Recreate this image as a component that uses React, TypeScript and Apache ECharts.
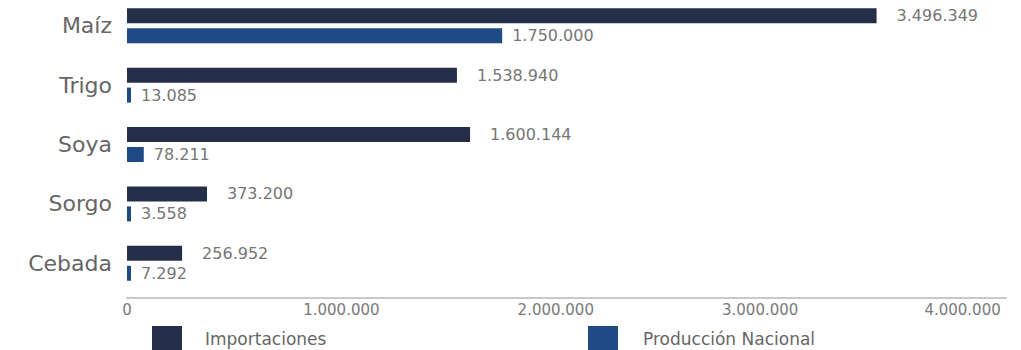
import React, { useEffect, useRef } from "react";
import * as echarts from "echarts";

const categories = ["Maíz", "Trigo", "Soya", "Sorgo", "Cebada"];
const importaciones = [3496349, 1538940, 1600144, 373200, 256952];
const produccion = [1750000, 13085, 78211, 3558, 7292];
const axisMax = 4100000;
const axisInterval = 1000000;

const fmt = (v: number) =>
  String(Math.round(v)).replace(/\B(?=(\d{3})+(?!\d))/g, ".");

export default function App() {
  const ref = useRef<HTMLDivElement>(null);
  useEffect(() => {
    if (!ref.current) return;
    const chart = echarts.init(ref.current, null, { renderer: "svg" });
    const font = "DejaVu Sans";
    chart.setOption({
      animation: false,
      backgroundColor: "#ffffff",
      textStyle: { fontFamily: font },
      grid: { left: 127, right: 15, top: 0, bottom: 57, containLabel: false },
      legend: [
        {
          data: ["Importaciones"],
          left: 147,
          top: 325,
          icon: "rect",
          itemWidth: 30,
          itemHeight: 26,
          textStyle: { fontSize: 17, color: "#666666", fontFamily: font, padding: [0, 0, 0, 18] },
        },
        {
          data: ["Producción Nacional"],
          left: 583,
          top: 325,
          icon: "rect",
          itemWidth: 30,
          itemHeight: 26,
          textStyle: { fontSize: 17, color: "#666666", fontFamily: font, padding: [0, 0, 0, 20] },
        },
      ],
      xAxis: {
        type: "value",
        min: 0,
        max: axisMax,
        interval: axisInterval,
        offset: 5,
        splitLine: { show: false },
        axisTick: { show: false },
        axisLine: { show: true, lineStyle: { color: "#c8c8c8", width: 2 } },
        axisLabel: {
          showMaxLabel: false,
          margin: 4,
          fontSize: 14,
          color: "#7a7a7a",
          fontFamily: font,
          formatter: (v: number) => {
            if (v === 4000000) return `{s4|${fmt(v)}}`;
            if (v === 3000000) return `{s3|${fmt(v)}}`;
            return `{n|${fmt(v)}}`;
          },
          rich: {
            n: { fontSize: 15, color: "#7a7a7a", fontFamily: font },
            s3: { fontSize: 15, color: "#7a7a7a", fontFamily: font, padding: [0, 20, 0, 0] },
            s4: { fontSize: 15, color: "#7a7a7a", fontFamily: font, padding: [0, 44, 0, 0] },
          },
        },
      },
      yAxis: {
        type: "category",
        data: categories,
        inverse: true,
        axisLine: { show: false },
        axisTick: { show: false },
        axisLabel: { fontSize: 22, color: "#666666", margin: 15, fontFamily: font },
      },
      series: [
        {
          name: "Importaciones",
          type: "bar",
          data: importaciones,
          barWidth: 15,
          barGap: "33%",
          itemStyle: { color: "#242e48" },
          label: {
            show: true,
            position: "right",
            distance: 20,
            fontSize: 16,
            color: "#767676",
            fontFamily: font,
            formatter: (p: any) => fmt(p.value),
          },
        },
        {
          name: "Producción Nacional",
          type: "bar",
          data: produccion,
          barWidth: 15,
          barGap: "33%",
          barMinHeight: 4,
          itemStyle: { color: "#1f4a83" },
          label: {
            show: true,
            position: "right",
            distance: 10,
            fontSize: 16,
            color: "#767676",
            fontFamily: font,
            formatter: (p: any) => fmt(p.value),
          },
        },
      ],
    });
    return () => chart.dispose();
  }, []);
  return (
    <div
      ref={ref}
      style={{ width: 1021, height: 354, position: "fixed", left: 0, top: -4 }}
    />
  );
}
